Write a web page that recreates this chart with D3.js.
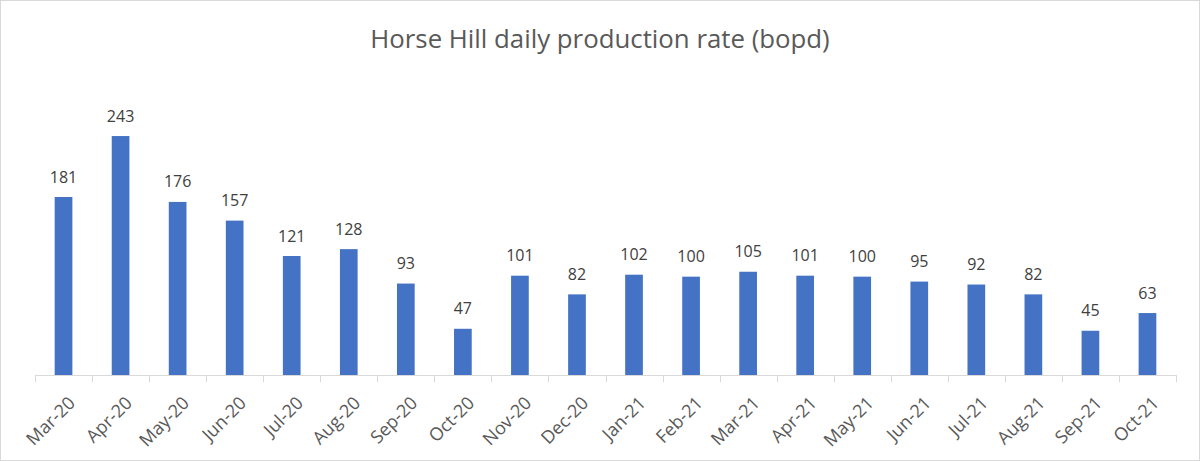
<!DOCTYPE html>
<html><head><meta charset="utf-8">
<script src="https://cdn.jsdelivr.net/npm/d3@7"></script>
<style>html,body{margin:0;padding:0;background:#fff}svg{display:block}</style>
</head><body>
<svg id="c" width="1200" height="461"></svg>
<script>
const categories = ["Mar-20","Apr-20","May-20","Jun-20","Jul-20","Aug-20","Sep-20","Oct-20","Nov-20","Dec-20","Jan-21","Feb-21","Mar-21","Apr-21","May-21","Jun-21","Jul-21","Aug-21","Sep-21","Oct-21"];
const production = [181,243,176,157,121,128,93,47,101,82,102,100,105,101,100,95,92,82,45,63];
const title = "Horse Hill daily production rate (bopd)";

const W = 1200, H = 461;
const svg = d3.select("#c");
const font = "Open Sans, Noto Sans, sans-serif";

svg.append("rect").attr("x",0.5).attr("y",0.5).attr("width",W-1).attr("height",H-1)
  .attr("fill","#fff").attr("stroke","#d9d9d9");

svg.append("text").attr("x",600).attr("y",48).attr("text-anchor","middle")
  .attr("font-family",font).attr("font-size",25.8).attr("fill","#595959").text(title);

const x = d3.scaleBand().domain(categories).range([35,1176]).paddingInner(0.69).paddingOuter(0.345);
const y = d3.scaleLinear().domain([0,300]).range([375,80]);

svg.selectAll("rect.bar").data(production).join("rect").attr("class","bar")
  .attr("x",(d,i)=>x(categories[i])).attr("width",x.bandwidth())
  .attr("y",d=>y(d)).attr("height",d=>y(0)-y(d)).attr("fill","#4472c4");

svg.selectAll("text.val").data(production).join("text").attr("class","val")
  .attr("x",(d,i)=>x(categories[i])+x.bandwidth()/2).attr("y",d=>y(d)-14.5)
  .attr("text-anchor","middle").attr("font-family",font).attr("font-size",16)
  .attr("fill","#404040").text(d=>d);

// axis
const step = (1176-35)/categories.length;
const g = svg.append("g");
g.append("line").attr("x1",35).attr("x2",1176).attr("y1",375.5).attr("y2",375.5).attr("stroke","#d9d9d9");
d3.range(categories.length+1).forEach(i=>{
  const xx = Math.round(35+i*step)+0.5;
  g.append("line").attr("x1",xx).attr("x2",xx).attr("y1",375).attr("y2",382).attr("stroke","#d9d9d9");
});
svg.selectAll("text.cat").data(categories).join("text").attr("class","cat")
  .attr("transform",d=>`translate(${x(d)+x.bandwidth()/2+3.5},${395}) rotate(-45)`)
  .attr("text-anchor","end").attr("dy","0.72em").attr("font-family",font).attr("font-size",18)
  .attr("fill","#595959").text(d=>d);
</script>
</body></html>
